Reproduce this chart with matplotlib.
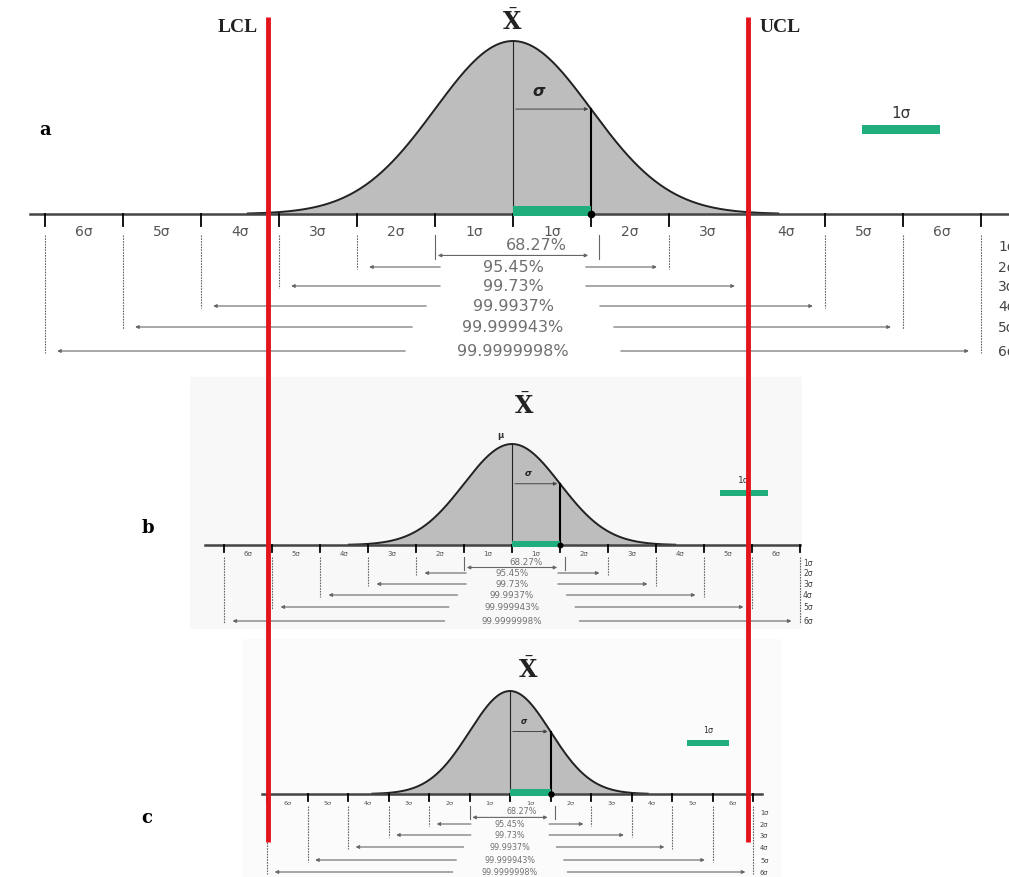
import numpy as np
import matplotlib.pyplot as plt
from matplotlib.patches import Rectangle

plt.rcParams['mathtext.fontset'] = 'dejavuserif'

# etiquetas del eje (sigmas a cada lado de la media)
etiquetas_sigma = ['6σ', '5σ', '4σ', '3σ', '2σ', '1σ', '1σ', '2σ', '3σ', '4σ', '5σ', '6σ']
porcentajes = ['68.27%', '95.45%', '99.73%', '99.9937%', '99.999943%', '99.9999998%']
etiquetas_fila = ['1σ', '2σ', '3σ', '4σ', '5σ', '6σ']
paneles = ['a', 'b', 'c']
multiplos = [1, 2, 3, 4, 5, 6]

ROJO = '#e3141b'
VERDE = '#1fae7c'
GRIS = '#bdbdbd'
LINEA = '#666666'
TEXTO = '#707070'

# disposicion de cada panel en pixeles
config = {
    'a': dict(media=513, sig=78, eje=215, alto=173, x0=30, x1=1009, fondo=None,
              filas=[32, 53, 72, 92, 113, 137], fx=998, f_tick=10, f_pct=11.5, f_fila=10, y_tick=17,
              barra=10, leyenda=(862, 126, 78, 9), etiqueta=(45, 130), xbar=(512, 22), mu=False),
    'b': dict(media=512, sig=48, eje=546, alto=101, x0=205, x1=800, fondo=(190, 378, 612, 252, '#f8f8f8'),
              filas=[18, 28, 39, 50, 62, 76], fx=803, f_tick=5, f_pct=6.3, f_fila=5.5, y_tick=8,
              barra=6, leyenda=(720, 491, 48, 6), etiqueta=(148, 528), xbar=(524, 406), mu=True),
    'c': dict(media=510, sig=40.5, eje=795, alto=103, x0=262, x1=762, fondo=(242, 640, 540, 238, '#fbfbfb'),
              filas=[18, 30, 41, 53, 66, 78], fx=760, f_tick=4.6, f_pct=5.8, f_fila=4.8, y_tick=9,
              barra=7, leyenda=(687, 741, 42, 6), etiqueta=(147, 818), xbar=(528, 670), mu=False),
}


def dibujar_panel(ax, nombre):
    p = config[nombre]
    m, s, eje, h = p['media'], p['sig'], p['eje'], p['alto']
    esc = s / 78.0

    if p['fondo'] is not None:
        fx0, fy0, fw, fh, fc = p['fondo']
        ax.add_patch(Rectangle((fx0, fy0), fw, fh, facecolor=fc, edgecolor='none', zorder=0))

    # curva normal
    x = np.linspace(m - 3.4 * s, m + 3.4 * s, 400)
    y = eje - h * np.exp(-0.5 * ((x - m) / s) ** 2)
    ax.fill_between(x, y, eje, color=GRIS, zorder=1)
    ax.plot(x, y, color='#222222', lw=1.4, zorder=3)

    # eje horizontal y marcas
    ax.plot([p['x0'], p['x1']], [eje, eje], color='#444444', lw=1.8, zorder=3)
    marcas = [m + k * s for k in range(-6, 7)]
    for xm in marcas:
        ax.plot([xm, xm], [eje, eje + 0.07 * h], color='black', lw=1.3, zorder=4)
    for i, lab in enumerate(etiquetas_sigma):
        xc = (marcas[i] + marcas[i + 1]) / 2
        ax.text(xc, eje + p['y_tick'], lab, fontsize=p['f_tick'], color='#555555', ha='center',
                va='center', zorder=5)

    # linea de la media, sigma y barra verde
    y1 = eje - h * np.exp(-0.5)
    ax.plot([m, m], [eje - h, eje], color='#222222', lw=0.8, zorder=4)
    ax.plot([m + s, m + s], [y1, eje], color='black', lw=1.5, zorder=4)
    ax.annotate('', xy=(m + s, y1), xytext=(m, y1),
                arrowprops=dict(arrowstyle='-|>', lw=0.7, color='#444444', mutation_scale=5), zorder=4)
    ax.text(m + 0.33 * s, y1 - 0.11 * h, 'σ', fontsize=p['f_pct'], style='italic',
            fontweight='bold', color='#222222', ha='center', va='center', zorder=5)
    ax.add_patch(Rectangle((m, eje - p['barra'] + 2), s, p['barra'], facecolor=VERDE,
                           edgecolor='none', zorder=5))
    ax.plot([m + s], [eje], 'o', color='black', ms=3 * p['barra'] / 10 + 1.5, zorder=6)

    # filas de porcentajes
    for k, pct, fy in zip(multiplos, porcentajes, p['filas']):
        yr = eje + fy
        xa, xb = m - k * s, m + k * s
        if k == 1:
            ya = yr + 0.45 * (p['filas'][1] - p['filas'][0])
            ax.plot([xa, xa], [eje + 0.12 * h, ya + 4 * esc], color=LINEA, lw=0.8, zorder=2)
            ax.plot([xb + 0.1 * s, xb + 0.1 * s], [eje + 0.12 * h, ya + 4 * esc], color=LINEA, lw=0.8, zorder=2)
            ax.annotate('', xy=(xb, ya), xytext=(xa, ya),
                        arrowprops=dict(arrowstyle='<|-|>', lw=0.8, color=LINEA, mutation_scale=5), zorder=2)
            ax.text(m + 0.3 * s, yr - 1, pct, fontsize=p['f_pct'], color=TEXTO, ha='center',
                    va='center', zorder=5)
        else:
            ax.plot([xa, xa], [eje + 0.12 * h, yr + 2], color=LINEA, lw=0.8, ls=(0, (1.5, 1)), zorder=2)
            ax.plot([xb, xb], [eje + 0.12 * h, yr + 2], color=LINEA, lw=0.8, ls=(0, (1.5, 1)), zorder=2)
            hueco = (7 * len(pct) + 28) * esc
            ax.annotate('', xy=(xa + 0.12 * s, yr), xytext=(m - hueco, yr),
                        arrowprops=dict(arrowstyle='-|>', lw=0.8, color=LINEA, mutation_scale=5), zorder=2)
            ax.annotate('', xy=(xb - 0.12 * s, yr), xytext=(m + hueco, yr),
                        arrowprops=dict(arrowstyle='-|>', lw=0.8, color=LINEA, mutation_scale=5), zorder=2)
            ax.text(m, yr, pct, fontsize=p['f_pct'], color=TEXTO, ha='center', va='center', zorder=5)

    # etiquetas de fila a la derecha
    for lab, fy in zip(etiquetas_fila, p['filas']):
        ax.text(p['fx'], eje + fy, lab, fontsize=p['f_fila'], color='#444444', ha='left',
                va='center', zorder=5)

    # leyenda 1 sigma
    lx, ly, lw_, lh = p['leyenda']
    ax.add_patch(Rectangle((lx, ly), lw_, lh, facecolor=VERDE, edgecolor='none', zorder=5))
    ax.text(lx + lw_ / 2, ly - lh - 4, '1σ', fontsize=p['f_fila'] + 1, color='#333333',
            ha='center', va='center', zorder=5)

    # titulos
    ex, ey = p['etiqueta']
    ax.text(ex, ey, nombre, fontsize=13, fontweight='bold', family='DejaVu Serif',
            ha='center', va='center', zorder=5)
    bx, by = p['xbar']
    ax.text(bx, by, r'$\bar{\mathbf{X}}$', fontsize=17, color='#222222',
            ha='center', va='center', zorder=5)
    if p['mu']:
        ax.text(m - 12, eje - h - 9, 'μ', fontsize=6, fontweight='bold', color='#333333',
                ha='center', va='center', zorder=5)


fig = plt.figure(figsize=(10.09, 8.78), dpi=100)
ax = fig.add_axes([0, 0, 1, 1])
ax.set_xlim(0, 1009)
ax.set_ylim(878, 0)
ax.axis('off')

for nombre in paneles:
    dibujar_panel(ax, nombre)

# limites de control
for xr in [268, 748]:
    ax.plot([xr, xr], [18, 843], color=ROJO, lw=3.5, solid_capstyle='butt', zorder=10)
ax.text(258, 28, 'LCL', fontsize=14, fontweight='bold', family='Liberation Serif',
        color='#222222', ha='right', va='center')
ax.text(760, 28, 'UCL', fontsize=14, fontweight='bold', family='Liberation Serif',
        color='#222222', ha='left', va='center')

fig.savefig('out.png', dpi=100)
